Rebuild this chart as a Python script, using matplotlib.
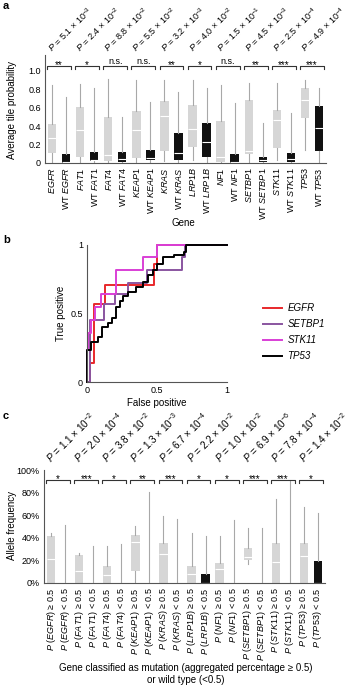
import matplotlib.pyplot as plt
import numpy as np

plt.rcParams['font.family'] = ['Liberation Sans', 'DejaVu Sans']
plt.rcParams['mathtext.fontset'] = 'custom'
plt.rcParams['mathtext.rm'] = 'Liberation Sans'
plt.rcParams['mathtext.it'] = 'Liberation Sans:italic'
plt.rcParams['mathtext.bf'] = 'Liberation Sans:bold'

genes = ["EGFR", "FAT1", "FAT4", "KEAP1", "KRAS", "LRP1B", "NF1", "SETBP1", "STK11", "TP53"]

# ---- panel a: average tile probability (mutant, WT alternating)
a_lo = [0.01, 0.0, 0.0, 0.0, 0.0, 0.0, 0.0, 0.0, 0.02, 0.0,
        0.03, 0.0, 0.0, 0.0, 0.0, 0.0, 0.03, 0.0, 0.14, 0.0]
a_q1 = [0.105, 0.0, 0.07, 0.02, 0.02, 0.01, 0.05, 0.03, 0.125, 0.03,
        0.17, 0.07, 0.01, 0.0, 0.095, 0.01, 0.165, 0.01, 0.485, 0.135]
a_med = [0.27, 0.01, 0.36, 0.03, 0.09, 0.045, 0.36, 0.05, 0.51, 0.11,
         0.37, 0.23, 0.07, 0.01, 0.13, 0.03, 0.47, 0.045, 0.685, 0.38]
a_q3 = [0.42, 0.095, 0.605, 0.115, 0.50, 0.12, 0.565, 0.14, 0.675, 0.33,
        0.63, 0.43, 0.45, 0.095, 0.685, 0.07, 0.575, 0.105, 0.81, 0.62]
a_hi = [0.85, 0.72, 0.855, 0.81, 0.91, 0.50, 0.90, 0.66, 0.90, 0.765,
        0.90, 0.81, 0.85, 0.65, 0.865, 0.43, 0.865, 0.54, 0.90, 0.81]
a_mant = ["5.1", "2.4", "8.8", "5.5", "3.2", "4.0", "1.5", "4.5", "2.5", "4.9"]
a_exp = ["-3", "-2", "-2", "-2", "-3", "-2", "-1", "-3", "-4", "-4"]
a_sig = ["**", "*", "n.s.", "n.s.", "**", "*", "n.s.", "**", "***", "***"]

# ---- panel b: ROC steps
egfr_fp = [0, 0.02, 0.05, 0.13, 0.48, 0.5, 1]
egfr_tp = [0, 0.14, 0.57, 0.71, 0.86, 1, 1]
setbp1_fp = [0, 0.02, 0.12, 0.2, 0.29, 0.43, 0.68, 0.7, 1]
setbp1_tp = [0, 0.45, 0.57, 0.64, 0.72, 0.82, 0.91, 1, 1]
stk11_fp = [0, 0, 0.01, 0.03, 0.06, 0.1, 0.21, 0.4, 0.5, 1]
stk11_tp = [0, 0.23, 0.36, 0.45, 0.55, 0.64, 0.82, 0.91, 1, 1]
tp53_fp = [0, 0, 0.03, 0.08, 0.11, 0.15, 0.18, 0.21, 0.235, 0.26, 0.29,
           0.35, 0.40, 0.435, 0.47, 0.5, 0.54, 0.62, 0.69, 0.71, 1]
tp53_tp = [0, 0.23, 0.29, 0.33, 0.40, 0.43, 0.47, 0.55, 0.59, 0.63, 0.66,
           0.69, 0.73, 0.78, 0.82, 0.86, 0.91, 0.93, 0.95, 1.0, 1.0]

# ---- panel c: allele frequency (P>=0.5, P<0.5 alternating), percent
c_lo = [0, 0, 0, 0, 0, 0, 0, 0, 0, 0,
        0, 0, 0, 0, 17, 0, 0, 0, 0, 0]
c_q1 = [0, 0, 0, 0, 0, 0, 11, 0, 0, 0,
        0, 0, 0, 0, 20.4, 0, 0, 0, 0, 0]
c_med = [21, 0, 10.6, 0, 7, 0, 36.5, 0, 26, 0,
         7.7, 0, 12, 0, 23.3, 0, 19, 0, 24, 0]
c_q3 = [42, 0, 24.8, 0, 15, 0, 42.5, 0, 35.7, 0,
        15, 7.7, 17.4, 0, 30.7, 0, 35.7, 0, 35, 19.5]
c_hi = [44.5, 51, 26.8, 32.7, 32.7, 34.5, 50.4, 80.8, 59.3, 57,
        44, 41.6, 41.6, 55.8, 48.4, 48.4, 74, 90, 67, 61.7]
c_dark = [False] * 20
c_dark[11] = True
c_dark[19] = True
c_mant = ["1.1", "2.0", "3.8", "1.3", "6.7", "2.2", "1.0", "6.9", "7.8", "1.4"]
c_exp = ["-2", "-4", "-2", "-3", "-4", "-2", "-2", "-6", "-4", "-2"]
c_sig = ["*", "***", "*", "**", "***", "*", "*", "***", "***", "*"]

LIGHT = '#d6d6d6'
DARK = '#111111'
WHISK = '#a8a8a8'
SPINE = '#555555'


def style_axes(ax):
    for s in ['top', 'right']:
        ax.spines[s].set_visible(False)
    for s in ['left', 'bottom']:
        ax.spines[s].set_color(SPINE)
        ax.spines[s].set_linewidth(0.8)
    ax.tick_params(length=0, labelsize=6.5, pad=3)


def draw_boxes(ax, lo, q1, med, q3, hi, dark):
    stats = [dict(whislo=lo[i], q1=q1[i], med=med[i], q3=q3[i], whishi=hi[i])
             for i in range(len(lo))]
    res = ax.bxp(stats, positions=np.arange(len(stats)), widths=0.6,
                 patch_artist=True, showcaps=False, showfliers=False,
                 whiskerprops=dict(color=WHISK, lw=0.8),
                 medianprops=dict(color='white', lw=0.8),
                 boxprops=dict(lw=0))
    for box, d in zip(res['boxes'], dark):
        box.set_facecolor(DARK if d else LIGHT)
        box.set_edgecolor('none')


def brackets(ax, y_br, tick, sig, mant, exps, p_dy, p_size):
    for i in range(len(sig)):
        x0, x1 = 2 * i - 0.35, 2 * i + 1.35
        ax.plot([x0, x0, x1, x1], [y_br - tick, y_br, y_br, y_br - tick],
                color='#333333', lw=0.8, clip_on=False)
        dy = 1.5 if sig[i] == "n.s." else -1.5
        ax.annotate(sig[i], xy=(2 * i + 0.5, y_br), xytext=(0, dy),
                    textcoords='offset points', ha='center', va='baseline',
                    fontsize=7 if sig[i] != "n.s." else 6.5, annotation_clip=False)
        ptxt = "$\\it{P}$ = %s × 10$^{%s}$" % (mant[i], exps[i])
        ax.annotate(ptxt, xy=(2 * i + 0.05, y_br), xytext=(0, p_dy),
                    textcoords='offset points', rotation=45, rotation_mode='anchor',
                    ha='left', va='baseline', fontsize=p_size, annotation_clip=False)


fig = plt.figure(figsize=(3.6, 6.85), dpi=100)
W, H = 360.0, 685.0


def axes_px(x0, y0, x1, y1):
    return fig.add_axes([x0 / W, 1 - y1 / H, (x1 - x0) / W, (y1 - y0) / H])


# ================= panel a
ax_a = axes_px(45, 55, 326, 163)
style_axes(ax_a)
dark_a = [i % 2 == 1 for i in range(20)]
draw_boxes(ax_a, a_lo, a_q1, a_med, a_q3, a_hi, dark_a)
ax_a.set_xlim(-0.5, 19.5)
ax_a.set_ylim(0, 1.17)
ax_a.spines['left'].set_bounds(0, 1.17)
ax_a.set_yticks([0, 0.2, 0.4, 0.6, 0.8, 1.0])
ax_a.set_yticklabels(["0", "0.2", "0.4", "0.6", "0.8", "1.0"])
a_labels = []
for g in genes:
    a_labels.append("$\\it{%s}$" % g)
    a_labels.append("WT $\\it{%s}$" % g)
ax_a.set_xticks(np.arange(20))
ax_a.set_xticklabels(a_labels, rotation=90, fontsize=6.5)
brackets(ax_a, 1.054, 0.035, a_sig, a_mant, a_exp, 9.5, 6.5)
fig.text(183 / W, 1 - 223 / H, "Gene", ha='center', va='center', fontsize=7)
fig.text(12 / W, 1 - 110 / H, "Average tile probability", rotation=90,
         ha='center', va='center', fontsize=7)
fig.text(3 / W, 1 - 6 / H, "a", fontweight='bold', fontsize=8, va='center')

# ================= panel b
ax_b = axes_px(87, 245, 227, 382)
style_axes(ax_b)
ax_b.plot(egfr_fp, egfr_tp, drawstyle='steps-post', color='#e8282b', lw=1.4,
          label='EGFR', clip_on=False)
ax_b.plot(setbp1_fp, setbp1_tp, drawstyle='steps-post', color='#8a55a0', lw=1.4,
          label='SETBP1', clip_on=False)
ax_b.plot(stk11_fp, stk11_tp, drawstyle='steps-post', color='#d93fd6', lw=1.4,
          label='STK11', clip_on=False)
ax_b.plot(tp53_fp, tp53_tp, drawstyle='steps-post', color='#000000', lw=1.4,
          label='TP53', clip_on=False)
ax_b.set_xlim(0, 1)
ax_b.set_ylim(0, 1)
ax_b.set_xticks([0, 0.5, 1])
ax_b.set_xticklabels(["0", "0.5", "1"])
ax_b.set_yticks([0, 0.5, 1])
ax_b.set_yticklabels(["0", "0.5", "1"])
ax_b.set_xlabel("False positive", fontsize=7, labelpad=2)
ax_b.set_ylabel("True positive", fontsize=7, labelpad=3)
leg = ax_b.legend(loc='upper left', bbox_to_anchor=(263 / W, 1 - 303 / H),
                  bbox_transform=fig.transFigure, frameon=False, fontsize=7,
                  handlelength=2.0, handletextpad=0.5, labelspacing=0.62,
                  borderpad=0, borderaxespad=0)
for t in leg.get_texts():
    t.set_fontstyle('italic')
fig.text(3 / W, 1 - 240 / H, "b", fontweight='bold', fontsize=8, va='center')

# ================= panel c
ax_c = axes_px(44, 470, 325, 583)
style_axes(ax_c)
draw_boxes(ax_c, c_lo, c_q1, c_med, c_q3, c_hi, c_dark)
ax_c.set_xlim(-0.5, 19.5)
ax_c.set_ylim(0, 100)
ax_c.set_yticks([0, 20, 40, 60, 80, 100])
ax_c.set_yticklabels(["0%", "20%", "40%", "60%", "80%", "100%"])
c_labels = []
for g in genes:
    c_labels.append("$\\it{P}$ ($\\it{%s}$) ≥ 0.5" % g)
    c_labels.append("$\\it{P}$ ($\\it{%s}$) < 0.5" % g)
ax_c.set_xticks(np.arange(20))
ax_c.set_xticklabels(c_labels, rotation=90, fontsize=6.5)
brackets(ax_c, 91, 2.8, c_sig, c_mant, c_exp, 12, 7.2)
fig.text(186 / W, 1 - 674 / H,
         "Gene classified as mutation (aggregated percentage ≥ 0.5)\nor wild type (<0.5)",
         ha='center', va='center', fontsize=7, linespacing=1.2)
fig.text(12 / W, 1 - 525 / H, "Allele frequency", rotation=90,
         ha='center', va='center', fontsize=7)
fig.text(3 / W, 1 - 416 / H, "c", fontweight='bold', fontsize=8, va='center')

fig.savefig("out.png", dpi=100)
